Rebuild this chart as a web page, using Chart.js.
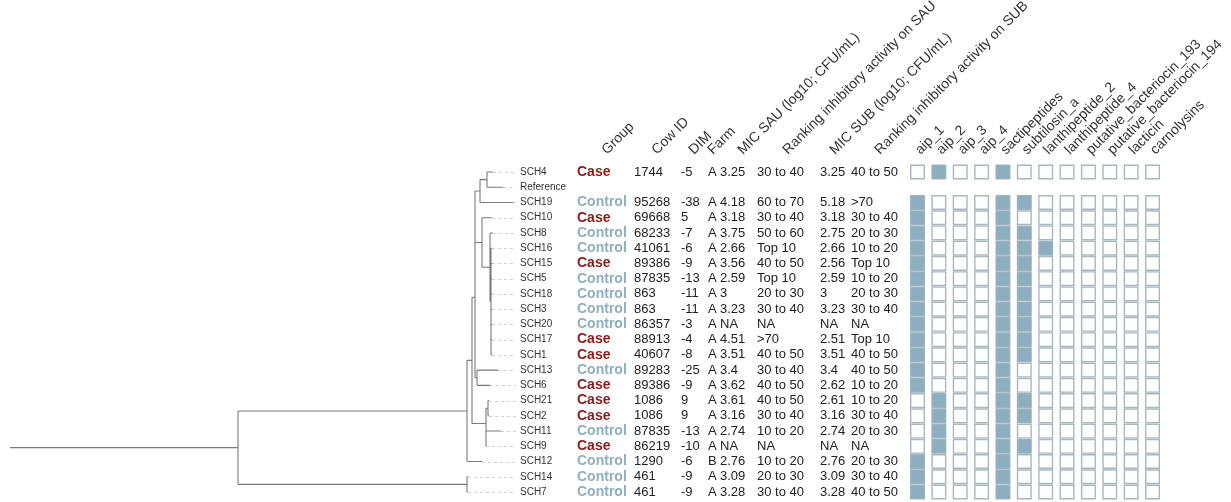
<!DOCTYPE html>
<html>
<head>
<meta charset="utf-8">
<script src="https://cdn.jsdelivr.net/npm/chart.js@4.4.0/dist/chart.umd.min.js"></script>
<style>
  html, body { margin: 0; padding: 0; background: #fff; }
  #wrap { width: 1231px; height: 502px; position: relative; }
</style>
</head>
<body>
<div id="wrap"><canvas id="chart"></canvas></div>
<script>
// dendrogram, branch lengths
const treeNewick = "(((((((SCH4:0.006,Reference:0.016):0.007,SCH19:0.033):0.005,(SCH10:0.010,(SCH8:0.003,(SCH16:0.001,SCH15:0.001,SCH5:0.001,SCH18:0.001,SCH3:0.001,SCH20:0.001,SCH17:0.001,SCH1:0.001):0.001):0.008):0.007):0,(SCH13:0.021,SCH6:0.013):0.002):0.003,((SCH21:0.001,SCH2:0.001):0.002,(SCH11:0.015,SCH9:0):0):0.014):0.005,SCH12:0.015):0.229,(SCH14:0.001,SCH7:0.001):0.229):0.228;";

// table columns, in leaf order
const groups  = ["Case", "", "Control", "Case", "Control", "Control", "Case", "Control", "Control", "Control", "Control", "Case", "Case", "Control", "Case", "Case", "Case", "Control", "Case", "Control", "Control", "Control"];
const cowIds  = ["1744", "", "95268", "69668", "68233", "41061", "89386", "87835", "863", "863", "86357", "88913", "40607", "89283", "89386", "1086", "1086", "87835", "86219", "1290", "461", "461"];
const dims    = ["-5", "", "-38", "5", "-7", "-6", "-9", "-13", "-11", "-11", "-3", "-4", "-8", "-25", "-9", "9", "9", "-13", "-10", "-6", "-9", "-9"];
const farms   = ["A", "", "A", "A", "A", "A", "A", "A", "A", "A", "A", "A", "A", "A", "A", "A", "A", "A", "A", "B", "A", "A"];
const micSau  = ["3.25", "", "4.18", "3.18", "3.75", "2.66", "3.56", "2.59", "3", "3.23", "NA", "4.51", "3.51", "3.4", "3.62", "3.61", "3.16", "2.74", "NA", "2.76", "3.09", "3.28"];
const rankSau = ["30 to 40", "", "60 to 70", "30 to 40", "50 to 60", "Top 10", "40 to 50", "Top 10", "20 to 30", "30 to 40", "NA", ">70", "40 to 50", "30 to 40", "40 to 50", "40 to 50", "30 to 40", "10 to 20", "NA", "10 to 20", "20 to 30", "30 to 40"];
const micSub  = ["3.25", "", "5.18", "3.18", "2.75", "2.66", "2.56", "2.59", "3", "3.23", "NA", "2.51", "3.51", "3.4", "2.62", "2.61", "3.16", "2.74", "NA", "2.76", "3.09", "3.28"];
const rankSub = ["40 to 50", "", ">70", "30 to 40", "20 to 30", "10 to 20", "Top 10", "10 to 20", "20 to 30", "30 to 40", "NA", "Top 10", "40 to 50", "40 to 50", "10 to 20", "10 to 20", "30 to 40", "20 to 30", "NA", "20 to 30", "30 to 40", "40 to 50"];

const tableHeaders = ["Group", "Cow ID", "DIM", "Farm", "MIC SAU (log10; CFU/mL)", "Ranking inhibitory activity on SAU", "MIC SUB (log10; CFU/mL)", "Ranking inhibitory activity on SUB"];

// presence / absence of gene clusters
const genes = ["aip_1", "aip_2", "aip_3", "aip_4", "sactipeptides", "subtilosin_a", "lanthipeptide_2", "lanthipeptide_4", "putative_bacteriocin_193", "putative_bacteriocin_194", "lacticin", "carnolysins"];
const presence = [
    [0,1,0,0,1,0,0,0,0,0,0,0], // SCH4
    null,                      // Reference
    [1,0,0,0,1,1,0,0,0,0,0,0], // SCH19
    [1,0,0,0,1,0,0,0,0,0,0,0], // SCH10
    [1,0,0,0,1,1,0,0,0,0,0,0], // SCH8
    [1,0,0,0,1,1,1,0,0,0,0,0], // SCH16
    [1,0,0,0,1,1,0,0,0,0,0,0], // SCH15
    [1,0,0,0,1,1,0,0,0,0,0,0], // SCH5
    [1,0,0,0,1,1,0,0,0,0,0,0], // SCH18
    [1,0,0,0,1,1,0,0,0,0,0,0], // SCH3
    [1,0,0,0,1,1,0,0,0,0,0,0], // SCH20
    [1,0,0,0,1,1,0,0,0,0,0,0], // SCH17
    [1,0,0,0,1,1,0,0,0,0,0,0], // SCH1
    [1,0,0,0,1,0,0,0,0,0,0,0], // SCH13
    [1,0,0,0,1,0,0,0,0,0,0,0], // SCH6
    [0,1,0,0,1,1,0,0,0,0,0,0], // SCH21
    [0,1,0,0,1,1,0,0,0,0,0,0], // SCH2
    [0,1,0,0,1,0,0,0,0,0,0,0], // SCH11
    [0,1,0,0,1,1,0,0,0,0,0,0], // SCH9
    [1,0,0,0,1,0,0,0,0,0,0,0], // SCH12
    [1,0,0,0,1,0,0,0,0,0,0,0], // SCH14
    [1,0,0,0,1,0,0,0,0,0,0,0]  // SCH7
];

const CASE_COLOR = "#8b1a1a";
const CONTROL_COLOR = "#8fafc0";
const FILL_COLOR = "#8caebf";
const FONT = "'Liberation Sans', Arial, sans-serif";

// layout (pixels)
const LABEL_X = 520;
const LEADER_END = 516;
const colX = [577, 634, 681, 708, 720, 757, 820, 851];
const headX = [607, 657, 694, 713, 743, 788, 835, 880];
const HEAD_Y = 155;

function parseNewick(s) {
    let i = 0;
    function node() {
        const n = { children: [], name: "", len: 0 };
        if (s[i] === "(") {
            i++;
            n.children.push(node());
            while (s[i] === ",") { i++; n.children.push(node()); }
            i++;
        }
        let name = "";
        while (i < s.length && !",():;".includes(s[i])) name += s[i++];
        n.name = name;
        if (s[i] === ":") {
            i++;
            let num = "";
            while (i < s.length && !",();".includes(s[i])) num += s[i++];
            n.len = parseFloat(num);
        }
        return n;
    }
    return node();
}

const root = parseNewick(treeNewick);
const leaves = [];
function place(n, x0) {
    n.x = x0 + n.len;
    if (!n.children.length) {
        n.y = leaves.length;
        leaves.push(n);
    } else {
        n.children.forEach(c => place(c, n.x));
        n.y = (n.children[0].y + n.children[n.children.length - 1].y) / 2;
    }
}
place(root, 0);

const treeSegs = [];
function collect(n, px) {
    treeSegs.push({ x: px, y: n.y }, { x: n.x, y: n.y }, { x: null, y: null });
    if (n.children.length) {
        treeSegs.push({ x: n.x, y: n.children[0].y }, { x: n.x, y: n.children[n.children.length - 1].y }, { x: null, y: null });
        n.children.forEach(c => collect(c, n.x));
    }
}
collect(root, 0);

const filledCells = [], emptyCells = [];
presence.forEach((row, r) => {
    if (!row) return;
    row.forEach((v, c) => (v ? filledCells : emptyCells).push({ x: c, y: r }));
});

const tablePlugin = {
    id: "tablePlugin",
    beforeDatasetsDraw(chart) {
        const { ctx, scales } = chart;
        ctx.save();
        ctx.strokeStyle = "#d2d2d2";
        ctx.lineWidth = 1;
        ctx.setLineDash([3, 3]);
        leaves.forEach(l => {
            const py = Math.round(scales.y.getPixelForValue(l.y)) + 0.5;
            ctx.beginPath();
            ctx.moveTo(scales.x.getPixelForValue(l.x), py);
            ctx.lineTo(LEADER_END, py);
            ctx.stroke();
        });
        ctx.restore();
    },
    afterDatasetsDraw(chart) {
        const { ctx, scales } = chart;
        ctx.save();
        ctx.textBaseline = "middle";
        ctx.textAlign = "left";
        leaves.forEach((l, i) => {
            const py = scales.y.getPixelForValue(l.y);
            ctx.font = "10px " + FONT;
            ctx.fillStyle = "#333";
            ctx.fillText(l.name, LABEL_X, py);

            if (groups[i]) {
                ctx.font = "bold 14px " + FONT;
                ctx.fillStyle = groups[i] === "Case" ? CASE_COLOR : CONTROL_COLOR;
                ctx.fillText(groups[i], colX[0], py);
            }
            ctx.font = "13px " + FONT;
            ctx.fillStyle = "#222";
            [cowIds, dims, farms, micSau, rankSau, micSub, rankSub].forEach((col, k) => {
                ctx.fillText(col[i], colX[k + 1], py);
            });
        });

        // rotated headers
        ctx.font = "14px " + FONT;
        ctx.fillStyle = "#333";
        ctx.textBaseline = "alphabetic";
        const heads = tableHeaders.map((t, k) => ({ t, x: headX[k] }))
            .concat(genes.map((g, k) => ({ t: g, x: scales.xh.getPixelForValue(k) + 3 })));
        heads.forEach(h => {
            ctx.save();
            ctx.translate(h.x, HEAD_Y);
            ctx.rotate(-Math.PI / 4);
            ctx.fillText(h.t, 0, 0);
            ctx.restore();
        });
        ctx.restore();
    }
};

const ctx = document.getElementById("chart").getContext("2d");
new Chart(ctx, {
    type: "scatter",
    data: {
        datasets: [
            {
                data: treeSegs,
                showLine: true,
                spanGaps: false,
                borderColor: "#7a7a7a",
                borderWidth: 1.1,
                pointRadius: 0,
                xAxisID: "x",
                yAxisID: "y"
            },
            {
                data: emptyCells,
                pointStyle: "rect",
                pointRadius: 9.6,
                backgroundColor: "#ffffff",
                borderColor: "#a9b7bf",
                borderWidth: 1.4,
                xAxisID: "xh",
                yAxisID: "y"
            },
            {
                data: filledCells,
                pointStyle: "rect",
                pointRadius: 9.6,
                backgroundColor: FILL_COLOR,
                borderColor: "#9cb3bf",
                borderWidth: 1.4,
                xAxisID: "xh",
                yAxisID: "y"
            }
        ]
    },
    options: {
        responsive: true,
        maintainAspectRatio: false,
        animation: false,
        layout: { padding: 0, autoPadding: false },
        plugins: { legend: { display: false }, tooltip: { enabled: false } },
        scales: {
            x: { type: "linear", display: false, min: -0.010, max: 1.221 },
            xh: { type: "linear", display: false, min: -42.946, max: 14.674 },
            y: { type: "linear", display: false, reverse: true, min: -11.2875, max: 21.656 }
        }
    },
    plugins: [tablePlugin]
});
</script>
</body>
</html>
